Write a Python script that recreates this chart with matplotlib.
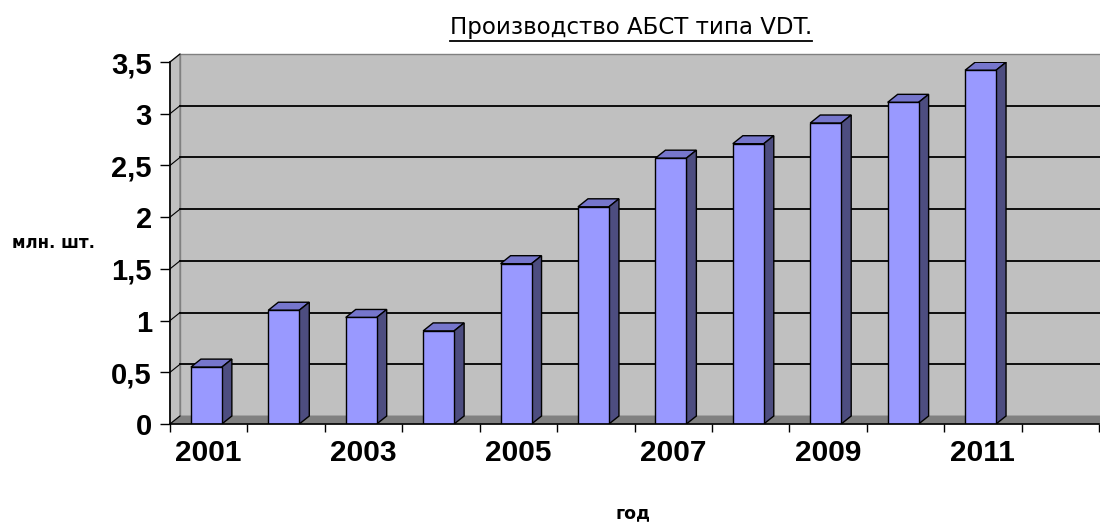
import matplotlib
matplotlib.use("Agg")
import matplotlib.pyplot as plt
from matplotlib.patches import Polygon
from matplotlib.lines import Line2D
from matplotlib import transforms

# annual output, mln pcs (2012 slot left empty)
years = ['2001', '2002', '2003', '2004', '2005', '2006',
         '2007', '2008', '2009', '2010', '2011', '2012']
values = [0.55, 1.10, 1.03, 0.90, 1.55, 2.10, 2.57, 2.71, 2.91, 3.11, 3.42]
yticks = [0, 0.5, 1, 1.5, 2, 2.5, 3, 3.5]
ytick_labels = ['0', '0,5', '1', '1,5', '2', '2,5', '3', '3,5']

wall_c = '#c0c0c0'
floor_c = '#808080'
face_c = '#9999ff'
top_c = '#7676cc'
side_c = '#4d4d80'
num_font = 'Liberation Sans'

fig = plt.figure(figsize=(11, 5.22), dpi=100)
ax = fig.add_axes([170 / 1100, 98 / 522, 929 / 1100, 362 / 522])
n = len(years)
ax.set_xlim(-0.5, n - 0.5)
ax.set_ylim(0, 3.5)
ax.patch.set_visible(False)

# depth of the fake 3d in pixels -> data units
p0 = ax.transData.transform((0, 0))
p1 = ax.transData.transform((1, 1))
ddx = 10 / (p1[0] - p0[0])
ddy = 8 / (p1[1] - p0[1])
x0, x1 = -0.5, n - 0.5

# back wall, left wall and floor
ax.add_patch(Polygon([(x0 + ddx, ddy), (x1 + ddx, ddy), (x1 + ddx, 3.5 + ddy), (x0 + ddx, 3.5 + ddy)],
                     closed=True, fc=wall_c, ec='#808080', lw=1, clip_on=False, zorder=0))
ax.add_patch(Polygon([(x0, 0), (x0, 3.5), (x0 + ddx, 3.5 + ddy), (x0 + ddx, ddy)],
                     closed=True, fc=wall_c, ec='#808080', lw=1, clip_on=False, zorder=0.5))
ax.add_patch(Polygon([(x0, 0), (x1, 0), (x1 + ddx, ddy), (x0 + ddx, ddy)],
                     closed=True, fc=floor_c, ec=floor_c, lw=0.5, clip_on=False, zorder=0.5))

for v in yticks[1:-1]:
    ax.plot([x0 + ddx, x1 + ddx], [v + ddy, v + ddy], color='black', lw=1.3, clip_on=False, zorder=1)
for v in yticks:
    ax.plot([x0, x0 + ddx], [v, v + ddy], color='black', lw=0.8, clip_on=False, zorder=1)

# columns: front face, top and side
w = 0.4
xs = [i - 0.03 for i in range(len(values))]
ax.bar(xs, values, width=w, color=face_c, edgecolor='black', lw=1, zorder=3)
for x, v in zip(xs, values):
    l, r = x - w / 2, x + w / 2
    ax.add_patch(Polygon([(l, v), (r, v), (r + ddx, v + ddy), (l + ddx, v + ddy)],
                         closed=True, fc=top_c, ec='black', lw=1, zorder=2))
    ax.add_patch(Polygon([(r, 0), (r, v), (r + ddx, v + ddy), (r + ddx, ddy)],
                         closed=True, fc=side_c, ec='black', lw=1, zorder=2))

for s in ['top', 'right']:
    ax.spines[s].set_visible(False)
ax.spines['left'].set_linewidth(1.2)
ax.spines['bottom'].set_linewidth(1.2)
ax.spines['left'].set_zorder(4)
ax.spines['bottom'].set_zorder(4)

ax.set_yticks(yticks)
ax.set_yticklabels(ytick_labels, fontfamily=num_font, fontweight='bold', fontsize=21)
ax.tick_params(axis='y', length=7, width=1, pad=6)

ax.set_xticks([i - 0.5 for i in range(n + 1)])
ax.set_xticklabels([])
ax.tick_params(axis='x', which='major', length=6, width=1)
ax.set_xticks(list(range(0, n - 1, 2)), minor=True)
ax.set_xticklabels(years[0:n - 1:2], minor=True, fontfamily=num_font,
                   fontweight='bold', fontsize=21.5)
ax.tick_params(axis='x', which='minor', length=0, pad=11)

fig.text(12 / 1100, 1 - 243 / 522, 'млн. шт.', fontfamily='DejaVu Sans', fontweight='bold',
         fontsize=12, va='center', ha='left')
fig.text(633 / 1100, 1 - 518 / 522, 'год', fontfamily='DejaVu Sans', fontweight='bold',
         fontsize=12.5, va='baseline', ha='center')
title = fig.text(812 / 1100, 1 - 34 / 522, 'Производство АБСТ типа VDT.', fontfamily='DejaVu Sans',
                 fontsize=16.5, va='baseline', ha='right')

# underline the title
fig.canvas.draw()
bb = title.get_window_extent()
fig.add_artist(Line2D([bb.x0, bb.x1], [bb.y0 - 2, bb.y0 - 2], color='black', lw=1.3,
                      transform=transforms.IdentityTransform()))

fig.savefig('out.png', dpi=100)
